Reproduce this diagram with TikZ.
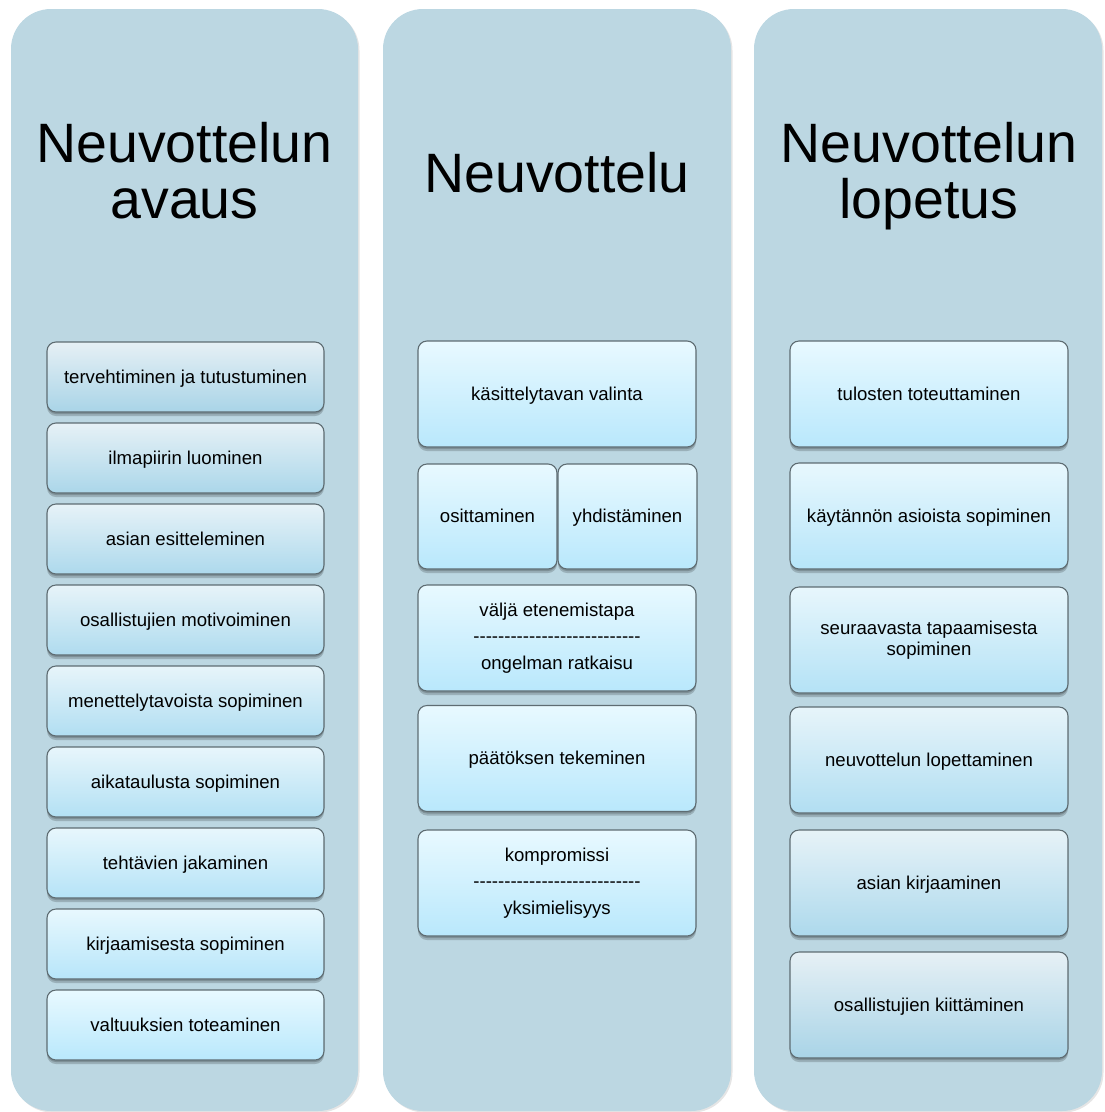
\documentclass[tikz,border=0pt]{standalone}
\usepackage{fontspec}
\setmainfont{Liberation Sans}
\definecolor{colbg}{HTML}{BCD7E2}
\definecolor{boxline}{HTML}{5E6C72}
\definecolor{gtop}{HTML}{E6F0F5}
\definecolor{gbot}{HTML}{A9D4E7}
\definecolor{ctop}{HTML}{E8F9FF}
\definecolor{cbot}{HTML}{B9E8FC}
\newcommand\titlefont{\fontsize{55.5}{56}\selectfont}
\newcommand\itemfont{\fontsize{18.6}{21}\selectfont}
\newcommand\itemfontwide{\fontsize{18.6}{26.5}\selectfont}
\newcommand\dashrule{\foreach\k in {1,...,27}{\mbox{-}}}
\tikzset{
  column/.style={fill=colbg, rounded corners=40pt,
    preaction={fill=black, opacity=0.10, transform canvas={xshift=1.5pt,yshift=-1.5pt}}},
  title/.style={font=\titlefont, anchor=base, inner sep=0pt},
  itembox/.style={draw=boxline, line width=1.1pt, rounded corners=9pt,
    align=center, font=\itemfont, inner sep=0pt, text=black,
    preaction={fill=black, opacity=0.18, transform canvas={yshift=-4pt}},
    preaction={fill=black, opacity=0.18, transform canvas={yshift=-2pt}}},
  oneline/.style={text height=17pt, text depth=4.6pt},
  mix/.style={top color=ctop!#1!gtop, bottom color=cbot!#1!gbot},
  smallbox/.style={itembox, minimum width=277pt, minimum height=70pt},
  bigbox/.style={itembox, minimum width=278pt, minimum height=106pt},
  halfbox/.style={itembox, minimum width=139pt, minimum height=105pt},
}
\begin{document}
\begin{tikzpicture}[x=1pt,y=-1pt]
\useasboundingbox (0,0) rectangle (1105,1112);
% columns
\path[column] (11,9) rectangle (358,1111);
\path[column] (383,9) rectangle (731,1111);
\path[column] (754,9) rectangle (1102,1111);
% titles
\node[title] (tA1) at (184.5,162) {Neuvottelun};
\node[title] (tA2) at (184.5,218) {avaus};
\node[title] (tB)  at (557,192) {Neuvottelu};
\node[title] (tC1) at (929,162) {Neuvottelun};
\node[title] (tC2) at (929,218) {lopetus};
% column 1
\node[smallbox, oneline, mix=0]   (a1) at (185.5,377) {tervehtiminen ja tutustuminen};
\node[smallbox, oneline, mix=12]  (a2) at (185.5,458) {ilmapiirin luominen};
\node[smallbox, oneline, mix=25]  (a3) at (185.5,539) {asian esitteleminen};
\node[smallbox, oneline, mix=37]  (a4) at (185.5,620) {osallistujien motivoiminen};
\node[smallbox, oneline, mix=50]  (a5) at (185.5,701) {menettelytavoista sopiminen};
\node[smallbox, oneline, mix=62]  (a6) at (185.5,782) {aikataulusta sopiminen};
\node[smallbox, oneline, mix=75]  (a7) at (185.5,863) {tehtävien jakaminen};
\node[smallbox, oneline, mix=87]  (a8) at (185.5,944) {kirjaamisesta sopiminen};
\node[smallbox, oneline, mix=100] (a9) at (185.5,1025) {valtuuksien toteaminen};
% column 2
\node[bigbox, oneline, mix=100] (b1) at (557,394) {käsittelytavan valinta};
\node[halfbox, oneline, mix=100] (b2a) at (487.5,516.5) {osittaminen};
\node[halfbox, oneline, mix=100] (b2b) at (627.5,516.5) {yhdistäminen};
\node[bigbox, mix=100, font=\itemfontwide] (b3) at (557,638) {väljä etenemistapa\\\dashrule\\ongelman ratkaisu};
\node[bigbox, oneline, mix=100] (b4) at (557,758.5) {päätöksen tekeminen};
\node[bigbox, mix=100, font=\itemfontwide] (b5) at (557,883) {kompromissi\\\dashrule\\yksimielisyys};
% column 3
\node[bigbox, oneline, mix=100] (c1) at (929,394) {tulosten toteuttaminen};
\node[bigbox, oneline, mix=85]  (c2) at (929,516) {käytännön asioista sopiminen};
\node[bigbox, mix=70]  (c3) at (929,640) {seuraavasta tapaamisesta\\sopiminen};
\node[bigbox, oneline, mix=50]  (c4) at (929,760) {neuvottelun lopettaminen};
\node[bigbox, oneline, mix=25]  (c5) at (929,883) {asian kirjaaminen};
\node[bigbox, oneline, mix=0]   (c6) at (929,1005) {osallistujien kiittäminen};
\end{tikzpicture}
\end{document}
